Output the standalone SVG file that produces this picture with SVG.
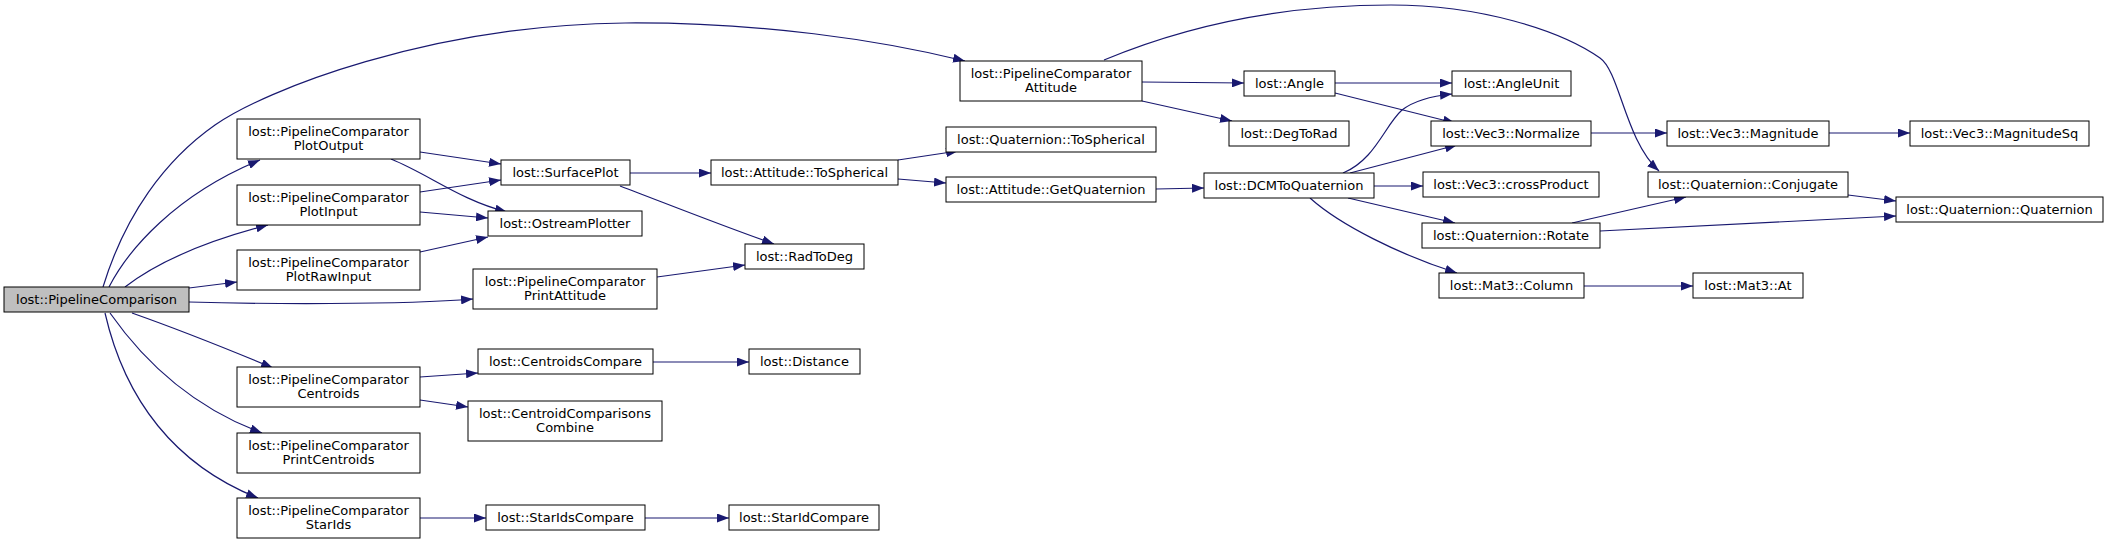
<svg xmlns="http://www.w3.org/2000/svg" width="2108" height="544" viewBox="0 0 2108 544">
<style>
.n rect{fill:#fff;stroke:#000;stroke-width:1}
.r rect{fill:#bfbfbf;stroke:#000;stroke-width:1}
text{font-family:"DejaVu Sans",sans-serif;font-size:13px;text-anchor:middle;fill:#000}
#edges path{fill:none;stroke:#191970;stroke-width:1.2;marker-end:url(#a)}
</style>
<defs>
<marker id="a" viewBox="0 0 12 9" refX="12" refY="4.5" markerWidth="12" markerHeight="9" orient="auto" markerUnits="userSpaceOnUse">
<path d="M0,0 L12,4.5 L0,9 z" fill="#191970"/>
</marker>
</defs>
<rect width="2108" height="544" fill="#fff"/>
<g id="edges">
<path d="M103,287 C125,215 165,160 215,125 C265,90 430,25 625,23 C760,22 880,40 965,61"/>
<path d="M109,287 C128,250 175,195 260,160"/>
<path d="M125,287 C160,260 210,240 268,225"/>
<path d="M189,288 L237,282"/>
<path d="M189,302 C260,304 400,305 473,299"/>
<path d="M132,313 C180,330 230,350 273,368"/>
<path d="M110,313 C150,370 200,410 262,433"/>
<path d="M105,313 C125,400 175,465 258,498"/>
<path d="M420,152 L501,164"/>
<path d="M391,159 C430,175 460,200 507,212"/>
<path d="M420,192 L501,180"/>
<path d="M420,212 L488,218"/>
<path d="M420,252 L488,237"/>
<path d="M630,173 L711,173"/>
<path d="M620,186 C670,205 720,225 774,244"/>
<path d="M657,277 L745,265"/>
<path d="M898,160 L958,151"/>
<path d="M898,179 L946,183"/>
<path d="M1156,189 L1204,188"/>
<path d="M1142,82 L1244,83"/>
<path d="M1142,101 L1232,121"/>
<path d="M1104,60 C1200,20 1300,5 1391,5 C1480,5 1560,30 1600,58 C1620,72 1625,140 1659,171"/>
<path d="M1343,173 C1375,160 1385,125 1402,110 C1415,100 1432,96 1452,94"/>
<path d="M1350,173 L1457,145"/>
<path d="M1374,186 L1423,186"/>
<path d="M1348,198 L1455,223"/>
<path d="M1310,198 C1340,225 1400,255 1457,273"/>
<path d="M1335,83 L1452,83"/>
<path d="M1335,93 L1455,123"/>
<path d="M1591,133 L1667,133"/>
<path d="M1829,133 L1910,133"/>
<path d="M1848,195 L1896,201"/>
<path d="M1572,223 L1686,197"/>
<path d="M1600,231 L1896,216"/>
<path d="M1584,286 L1693,286"/>
<path d="M420,377 L478,373"/>
<path d="M420,400 L468,407"/>
<path d="M653,362 L749,362"/>
<path d="M420,518 L486,518"/>
<path d="M645,518 L729,518"/>
</g>
<g id="n1" class="r"><rect x="4" y="287" width="185" height="25"/><text x="96.5" y="304">lost::PipelineComparison</text></g>
<g id="n2" class="n"><rect x="237" y="119" width="183" height="40"/><text x="328.5" y="135.5">lost::PipelineComparator</text><text x="328.5" y="150">PlotOutput</text></g>
<g id="n3" class="n"><rect x="237" y="185" width="183" height="40"/><text x="328.5" y="201.5">lost::PipelineComparator</text><text x="328.5" y="216">PlotInput</text></g>
<g id="n4" class="n"><rect x="237" y="250" width="183" height="40"/><text x="328.5" y="266.5">lost::PipelineComparator</text><text x="328.5" y="281">PlotRawInput</text></g>
<g id="n5" class="n"><rect x="473" y="269" width="184" height="40"/><text x="565" y="285.5">lost::PipelineComparator</text><text x="565" y="300">PrintAttitude</text></g>
<g id="n6" class="n"><rect x="237" y="367" width="183" height="40"/><text x="328.5" y="383.5">lost::PipelineComparator</text><text x="328.5" y="398">Centroids</text></g>
<g id="n7" class="n"><rect x="237" y="433" width="183" height="40"/><text x="328.5" y="449.5">lost::PipelineComparator</text><text x="328.5" y="464">PrintCentroids</text></g>
<g id="n8" class="n"><rect x="237" y="498" width="183" height="40"/><text x="328.5" y="514.5">lost::PipelineComparator</text><text x="328.5" y="529">StarIds</text></g>
<g id="n9" class="n"><rect x="501" y="160" width="129" height="25"/><text x="565.5" y="177">lost::SurfacePlot</text></g>
<g id="n10" class="n"><rect x="488" y="211" width="154" height="25"/><text x="565" y="228">lost::OstreamPlotter</text></g>
<g id="n11" class="n"><rect x="960" y="61" width="182" height="40"/><text x="1051" y="77.5">lost::PipelineComparator</text><text x="1051" y="92">Attitude</text></g>
<g id="n12" class="n"><rect x="946" y="127" width="210" height="25"/><text x="1051" y="144">lost::Quaternion::ToSpherical</text></g>
<g id="n13" class="n"><rect x="711" y="160" width="187" height="25"/><text x="804.5" y="177">lost::Attitude::ToSpherical</text></g>
<g id="n14" class="n"><rect x="946" y="177" width="210" height="25"/><text x="1051" y="194">lost::Attitude::GetQuaternion</text></g>
<g id="n15" class="n"><rect x="745" y="244" width="119" height="25"/><text x="804.5" y="261">lost::RadToDeg</text></g>
<g id="n16" class="n"><rect x="478" y="349" width="175" height="25"/><text x="565.5" y="366">lost::CentroidsCompare</text></g>
<g id="n17" class="n"><rect x="749" y="349" width="111" height="25"/><text x="804.5" y="366">lost::Distance</text></g>
<g id="n18" class="n"><rect x="468" y="401" width="194" height="40"/><text x="565" y="417.5">lost::CentroidComparisons</text><text x="565" y="432">Combine</text></g>
<g id="n19" class="n"><rect x="486" y="505" width="159" height="25"/><text x="565.5" y="522">lost::StarIdsCompare</text></g>
<g id="n20" class="n"><rect x="729" y="505" width="150" height="25"/><text x="804" y="522">lost::StarIdCompare</text></g>
<g id="n21" class="n"><rect x="1244" y="71" width="91" height="25"/><text x="1289.5" y="88">lost::Angle</text></g>
<g id="n22" class="n"><rect x="1229" y="121" width="120" height="25"/><text x="1289" y="138">lost::DegToRad</text></g>
<g id="n23" class="n"><rect x="1204" y="173" width="170" height="25"/><text x="1289" y="190">lost::DCMToQuaternion</text></g>
<g id="n24" class="n"><rect x="1452" y="71" width="119" height="25"/><text x="1511.5" y="88">lost::AngleUnit</text></g>
<g id="n25" class="n"><rect x="1431" y="121" width="160" height="25"/><text x="1511" y="138">lost::Vec3::Normalize</text></g>
<g id="n26" class="n"><rect x="1423" y="172" width="176" height="25"/><text x="1511" y="189">lost::Vec3::crossProduct</text></g>
<g id="n27" class="n"><rect x="1422" y="223" width="178" height="25"/><text x="1511" y="240">lost::Quaternion::Rotate</text></g>
<g id="n28" class="n"><rect x="1439" y="273" width="145" height="25"/><text x="1511.5" y="290">lost::Mat3::Column</text></g>
<g id="n29" class="n"><rect x="1667" y="121" width="162" height="25"/><text x="1748" y="138">lost::Vec3::Magnitude</text></g>
<g id="n30" class="n"><rect x="1910" y="121" width="179" height="25"/><text x="1999.5" y="138">lost::Vec3::MagnitudeSq</text></g>
<g id="n31" class="n"><rect x="1648" y="172" width="200" height="25"/><text x="1748" y="189">lost::Quaternion::Conjugate</text></g>
<g id="n32" class="n"><rect x="1896" y="197" width="207" height="25"/><text x="1999.5" y="214">lost::Quaternion::Quaternion</text></g>
<g id="n33" class="n"><rect x="1693" y="273" width="110" height="25"/><text x="1748" y="290">lost::Mat3::At</text></g>
</svg>
